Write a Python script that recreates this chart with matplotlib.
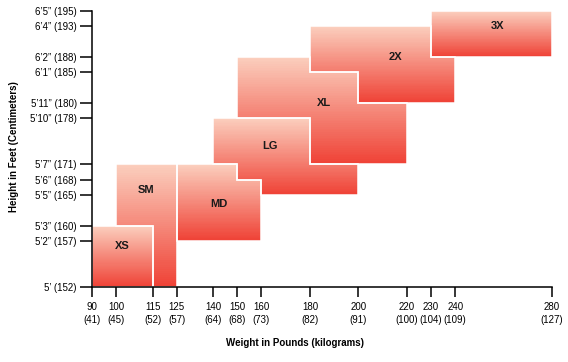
import numpy as np
import matplotlib
matplotlib.use("Agg")
import matplotlib.pyplot as plt
from matplotlib.patches import Polygon, Rectangle

# Size regions: columns of (weight from, weight to, height from, height to)
# weight in pounds, height in inches
sizes = ['XS', 'SM', 'MD', 'LG', 'XL', '2X', '3X']
columns = [
    [(90, 115, 60, 63)],
    [(100, 115, 63, 67), (115, 125, 60, 67)],
    [(125, 150, 62, 67), (150, 160, 62, 66)],
    [(140, 150, 67, 70), (150, 160, 66, 70), (160, 180, 65, 70), (180, 200, 65, 67)],
    [(150, 180, 70, 74), (180, 200, 67, 73), (200, 220, 67, 71)],
    [(180, 200, 73, 76), (200, 230, 71, 76), (230, 240, 71, 74)],
    [(230, 280, 74, 77)],
]
label_x = [102.5, 112.5, 142.5, 163.5, 186, 215.5, 257.5]
label_y = [61.8, 65.3, 64.4, 68.2, 71.0, 74.0, 76.0]

weight_ticks = [90, 100, 115, 125, 140, 150, 160, 180, 200, 220, 230, 240, 280]
weight_kg = [41, 45, 52, 57, 64, 68, 73, 82, 91, 100, 104, 109, 127]
height_ticks = [60, 62, 63, 65, 66, 67, 70, 71, 73, 74, 76, 77]
height_labels = ["5\u2019 (152)", "5\u20192\u201d (157)", "5\u20193\u201d (160)", "5\u20195\u201d (165)",
                 "5\u20196\u201d (168)", "5\u20197\u201d (171)", "5\u201910\u201d (178)", "5\u201911\u201d (180)",
                 "6\u20191\u201d (185)", "6\u20192\u201d (188)", "6\u20194\u201d (193)", "6\u20195\u201d (195)"]

top_color = np.array([251, 208, 191]) / 255
bottom_color = np.array([239, 66, 54]) / 255

font = ['Liberation Sans', 'DejaVu Sans']


# the chart squeezes 5'0" - 5'2" a bit wider than the rest
def fwd(y):
    y = np.asarray(y, dtype=float)
    return np.where(y < 62, 62 - (62 - y) * 1.5, y)


def inv(v):
    v = np.asarray(v, dtype=float)
    return np.where(v < 62, 62 - (62 - v) / 1.5, v)


fig = plt.figure(figsize=(5.68, 3.62), dpi=100)
ax = fig.add_axes([92 / 568, 1 - 287 / 362, (552 - 92) / 568, (287 - 11) / 362])
ax.set_yscale('function', functions=(fwd, inv))
ax.set_xlim(90, 280)
ax.set_ylim(60, 77)

for name, cols, lx, ly in zip(sizes, columns, label_x, label_y):
    top_pts = []
    bot_pts = []
    for x0, x1, y0, y1 in cols:
        top_pts += [(x0, y1), (x1, y1)]
        bot_pts += [(x0, y0), (x1, y0)]
    poly = Polygon(top_pts + bot_pts[::-1], closed=True, facecolor='none',
                   edgecolor='white', linewidth=1.1, zorder=3)
    ax.add_patch(poly)

    xmin = min(c[0] for c in cols)
    xmax = max(c[1] for c in cols)
    ymin = min(c[2] for c in cols)
    ymax = max(c[3] for c in cols)
    v0, v1 = float(fwd(ymin)), float(fwd(ymax))
    n = 60
    vs = np.linspace(v0, v1, n + 1)[:-1]
    for v in vs:
        t = (v - v0) / (v1 - v0)
        col = bottom_color * (1 - t) + top_color * t
        yb = float(inv(v))
        r = Rectangle((xmin, yb), xmax - xmin, ymax - yb, facecolor=col,
                      edgecolor='none', linewidth=0, zorder=2)
        ax.add_patch(r)
        r.set_clip_path(poly)

    ax.text(lx, ly, name, ha='center', va='center', fontsize=8,
            fontweight='bold', color='#1a1a1a', zorder=4, family=font)

ax.set_xticks(weight_ticks)
ax.set_xticklabels(["%d\n(%d)" % (w, k) for w, k in zip(weight_ticks, weight_kg)],
                   family=font, fontsize=7, linespacing=1.4)
ax.set_yticks(height_ticks)
ax.set_yticklabels(height_labels, family=font, fontsize=7)
ax.yaxis.set_minor_locator(plt.NullLocator())
ax.xaxis.set_minor_locator(plt.NullLocator())
ax.tick_params(axis='y', direction='out', length=9, width=1.1, pad=2)
ax.tick_params(axis='x', direction='out', length=7.5, width=1.1, pad=3)

for side in ['top', 'right']:
    ax.spines[side].set_visible(False)
for side in ['left', 'bottom']:
    ax.spines[side].set_linewidth(1.1)
    ax.spines[side].set_zorder(5)

fig.text(295 / 568, 1 - 343 / 362, 'Weight in Pounds (kilograms)', ha='center', va='center',
         fontsize=7, fontweight='bold', family=font)
fig.text(14 / 568, 1 - 147 / 362, 'Height in Feet (Centimeters)', ha='center', va='center',
         rotation=90, fontsize=7, fontweight='bold', family=font)

fig.savefig('out.png', dpi=100)
